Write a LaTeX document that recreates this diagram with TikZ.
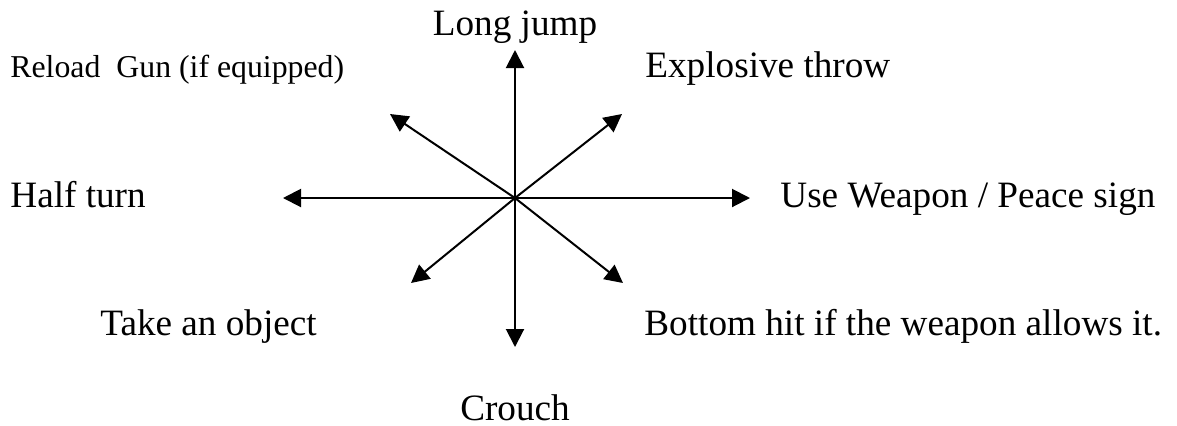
\documentclass[tikz,border=0pt]{standalone}
\usepackage{fontspec}
\setmainfont{Liberation Serif}
\usetikzlibrary{arrows.meta}

\begin{document}
\begin{tikzpicture}[
    x=0.5pt,y=-0.5pt,
    lbl/.style={font=\fontsize{18.6}{22}\selectfont,inner sep=0pt},
    slbl/.style={font=\fontsize{15.9}{19}\selectfont,inner sep=0pt},
    arr/.style={-{Triangle[length=9pt,width=9pt]},line width=1pt,black}
  ]
    \useasboundingbox (0,0) rectangle (1177,425);

    \coordinate (c) at (515,198);
    \coordinate (up)   at (515,50);
    \coordinate (down) at (515,347);
    \coordinate (left) at (283,198);
    \coordinate (right) at (750,198);
    \coordinate (ul) at (390,114);
    \coordinate (ur) at (622,114);
    \coordinate (dl) at (411,283);
    \coordinate (dr) at (623,283);

    % Labels
    \node[lbl,anchor=base]      (jump)   at (515,35)  {Long jump};
    \node[slbl,anchor=base west] (reload) at (10,77)   {Reload\ \ Gun (if equipped)};
    \node[lbl,anchor=base west] (throw)  at (645,77)  {Explosive throw};
    \node[lbl,anchor=base west] (turn)   at (10,207)  {Half turn};
    \node[lbl,anchor=base west] (weapon) at (780,207) {Use Weapon / Peace sign};
    \node[lbl,anchor=base west] (take)   at (100,335) {Take an object};
    \node[lbl,anchor=base west] (hit)    at (644,335) {Bottom hit if the weapon allows it.};
    \node[lbl,anchor=base]      (crouch) at (515,420) {Crouch};

    % Arrows
    \foreach \t in {up,down,left,right,ul,ur,dl,dr}
      \draw[arr] (c) -- (\t);

  \end{tikzpicture}
\end{document}
